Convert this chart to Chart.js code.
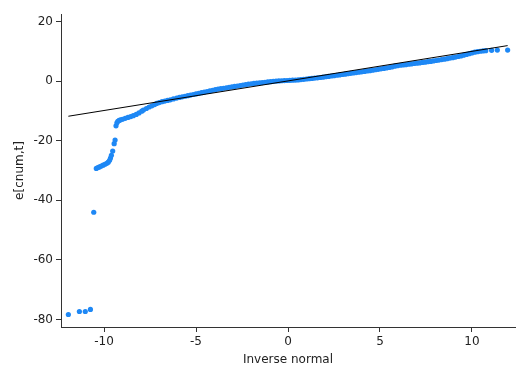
<!DOCTYPE html>
<html>
<head>
<meta charset="utf-8">
<script src="https://cdn.jsdelivr.net/npm/chart.js@4/dist/chart.umd.min.js"></script>
<style>
html,body{margin:0;padding:0;background:#fff;}
#wrap{width:528px;height:384px;}
</style>
</head>
<body>
<div id="wrap"><canvas id="c" width="528" height="384"></canvas></div>
<script>
// Quantile points (x = inverse normal, y = e[cnum,t])
const qqX = [
  -11.94, -11.34, -11.02, -10.74, -10.56,
  -10.42, -10.33, -10.25, -10.15, -10.05, -9.95, -9.85, -9.77, -9.70, -9.65, -9.60,
  -9.53, -9.45, -9.40,
  -9.35, -9.30, -9.25, -9.18, -9.10, -9.00, -8.85, -8.70, -8.55, -8.41, -8.25, -8.10,
  -7.95, -7.86, -7.70, -7.55, -7.40, -7.25, -7.14, -7.00, -6.85, -6.70, -6.55, -6.40,
  -6.23, -6.05, -5.90, -5.75, -5.60, -5.45, -5.30, -5.15, -5.00, -4.85, -4.70, -4.55,
  -4.40, -4.25, -4.10, -3.95, -3.80, -3.65, -3.50, -3.35, -3.20, -3.05, -2.90, -2.75,
  -2.60, -2.45, -2.30, -2.15, -2.00, -1.85, -1.70, -1.55, -1.40, -1.25, -1.10, -0.95,
  -0.80, -0.65, -0.50, -0.35, -0.20, -0.05, 0.10, 0.25, 0.40, 0.55, 0.70, 0.85,
  1.00, 1.15, 1.30, 1.45, 1.60, 1.75, 1.90, 2.05, 2.20, 2.35, 2.50, 2.65,
  2.80, 2.95, 3.10, 3.25, 3.40, 3.55, 3.70, 3.85, 4.00, 4.15, 4.30, 4.45,
  4.60, 4.75, 4.90, 5.05, 5.20, 5.35, 5.50, 5.65, 5.80, 5.95, 6.10, 6.25,
  6.40, 6.55, 6.70, 6.85, 7.00, 7.15, 7.30, 7.45, 7.60, 7.75, 7.90, 8.05,
  8.20, 8.35, 8.50, 8.65, 8.80, 8.95, 9.10, 9.25, 9.40, 9.55, 9.70, 9.85,
  10.00, 10.15, 10.30, 10.45, 10.60, 10.75, 11.07, 11.38, 11.94
];
const qqY = [
  -78.3, -77.3, -77.3, -76.6, -44.0,
  -29.3, -29.0, -28.8, -28.5, -28.2, -27.9, -27.6, -27.2, -26.6, -25.8, -24.9,
  -23.5, -21.0, -19.8,
  -15.0, -14.0, -13.5, -13.2, -13.0, -12.8, -12.5, -12.2, -11.9, -11.6, -11.2, -10.7,
  -10.1, -9.7, -9.2, -8.7, -8.3, -7.9, -7.5, -7.2, -6.9, -6.7, -6.5, -6.3,
  -6.0, -5.7, -5.5, -5.3, -5.1, -4.9, -4.7, -4.5, -4.3, -4.1, -3.9, -3.7,
  -3.5, -3.3, -3.1, -2.9, -2.7, -2.55, -2.4, -2.25, -2.1, -1.95, -1.8, -1.65,
  -1.5, -1.35, -1.2, -1.05, -0.9, -0.8, -0.7, -0.6, -0.5, -0.4, -0.3, -0.2,
  -0.1, 0.0, 0.05, 0.1, 0.15, 0.2, 0.25, 0.3, 0.35, 0.4, 0.5, 0.6,
  0.7, 0.8, 0.9, 1.0, 1.1, 1.2, 1.3, 1.45, 1.55, 1.7, 1.8, 1.95,
  2.05, 2.2, 2.3, 2.45, 2.6, 2.7, 2.85, 3.0, 3.1, 3.25, 3.4, 3.5,
  3.65, 3.8, 3.95, 4.1, 4.25, 4.4, 4.55, 4.75, 5.0, 5.15, 5.3, 5.4,
  5.5, 5.65, 5.75, 5.9, 6.0, 6.1, 6.25, 6.35, 6.5, 6.6, 6.75, 6.9,
  7.05, 7.2, 7.35, 7.5, 7.7, 7.85, 8.05, 8.25, 8.45, 8.7, 8.95, 9.2,
  9.45, 9.7, 9.85, 10.0, 10.1, 10.2, 10.3, 10.4, 10.4
];
// Reference line
const lineX = [-11.94, 11.94];
const lineY = [-11.8, 11.9];
// Tick labels
const xTickVals = [-10, -5, 0, 5, 10];
const yTickVals = [-80, -60, -40, -20, 0, 20];
const xLabel = 'Inverse normal';
const yLabel = 'e[cnum,t]';

const pts = qqX.map((x, i) => ({x: x, y: qqY[i]}));
const linePts = lineX.map((x, i) => ({x: x, y: lineY[i]}));

const axisColor = '#333';
const textColor = '#222';
const tickFont = {family: 'DejaVu Sans', size: 12};

new Chart(document.getElementById('c'), {
  type: 'scatter',
  data: {
    datasets: [
      {
        type: 'line', data: linePts, order: 0,
        borderColor: '#000', borderWidth: 1, pointRadius: 0, fill: false, tension: 0
      },
      {
        data: pts, order: 1,
        backgroundColor: 'rgb(30,136,245)', borderWidth: 0, pointRadius: 2.6
      }
    ]
  },
  options: {
    responsive: false,
    animation: false,
    devicePixelRatio: 1,
    layout: {padding: {top: 14, right: 13, bottom: 0, left: 0}},
    plugins: {legend: {display: false}, tooltip: {enabled: false}},
    scales: {
      x: {
        type: 'linear', min: -12.34, max: 12.34,
        afterBuildTicks: s => { s.ticks = xTickVals.map(v => ({value: v})); },
        afterFit: s => { s.height = 57; },
        grid: {drawOnChartArea: false, drawTicks: true, tickLength: 5, tickColor: axisColor, tickWidth: 1},
        border: {display: true, color: axisColor, width: 1},
        ticks: {color: textColor, font: tickFont, padding: 3, maxRotation: 0, autoSkip: false},
        title: {display: true, text: xLabel, color: textColor, font: {family: 'DejaVu Sans', size: 12}, padding: {top: 4, bottom: 17}}
      },
      y: {
        type: 'linear', min: -82.5, max: 22.5,
        afterBuildTicks: s => { s.ticks = yTickVals.map(v => ({value: v})); },
        afterFit: s => { s.width = 61; },
        grid: {drawOnChartArea: false, drawTicks: true, tickLength: 5, tickColor: axisColor, tickWidth: 1},
        border: {display: true, color: axisColor, width: 1},
        ticks: {color: textColor, font: tickFont, padding: 3, autoSkip: false},
        title: {display: true, text: yLabel, color: textColor, font: {family: 'DejaVu Sans', size: 12}, padding: {top: 13, bottom: 4}}
      }
    }
  }
});
</script>
</body>
</html>
